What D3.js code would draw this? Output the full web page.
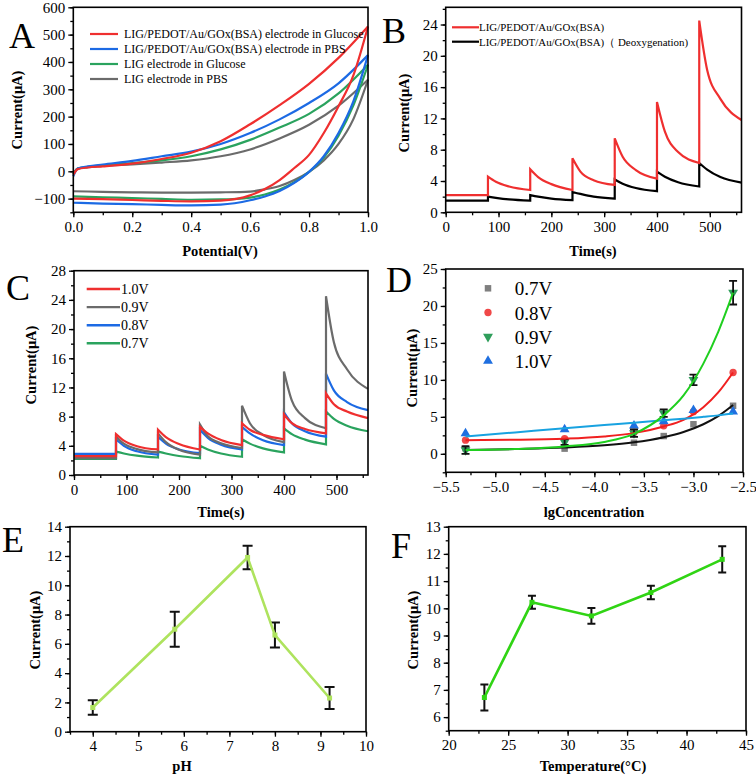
<!DOCTYPE html>
<html>
<head>
<meta charset="utf-8">
<script src="https://cdn.jsdelivr.net/npm/d3@7"></script>
<style>
  body { margin: 0; background: #fff; }
  svg { display: block; font-family: "Liberation Serif", "Times New Roman", Times, serif; }
</style>
</head>
<body>
<svg id="fig" width="756" height="777"></svg>
<script>
// ---------- A: cyclic voltammograms ----------
const cvUpV = [0, 0.015, 0.05, 0.1, 0.2, 0.3, 0.4, 0.5, 0.6, 0.7, 0.8, 0.9, 1.0];
const cvLowV = [0, 0.1, 0.2, 0.3, 0.4, 0.5, 0.6, 0.65, 0.7, 0.75, 0.8, 0.85, 0.9, 0.95, 1.0];
const cvNames = ["LIG/PEDOT/Au/GOx(BSA) electrode in Glucose", "LIG/PEDOT/Au/GOx(BSA) electrode in PBS",
                 "LIG electrode in Glucose", "LIG electrode in PBS"];
const cvUp = [
  [-12, 8, 14, 18, 28, 45, 68, 110, 172, 242, 320, 415, 530],
  [-18, 10, 18, 25, 38, 55, 72, 100, 140, 190, 250, 322, 425],
  [-12, 10, 16, 22, 30, 40, 55, 80, 115, 160, 210, 285, 390],
  [-8, 10, 15, 20, 25, 32, 40, 55, 80, 120, 170, 240, 335]
];
const cvLow = [
  [-100, -102, -105, -108, -110, -107, -88, -65, -32, 12, 60, 140, 238, 350, 530],
  [-115, -118, -120, -123, -125, -122, -106, -92, -72, -42, -2, 55, 140, 255, 425],
  [-92, -95, -98, -101, -104, -103, -96, -85, -67, -40, -2, 50, 130, 240, 390],
  [-73, -75, -77, -78, -78, -77, -74, -66, -54, -32, -2, 40, 100, 190, 335]
];

// ---------- B: amperometric response ----------
const stepTimes = [80, 160, 240, 320, 400, 480];
const bNames = ["LIG/PEDOT/Au/GOx(BSA)", "LIG/PEDOT/Au/GOx(BSA)（ Deoxygenation)"];
const bBase = [2.2, 1.5];
const bPeak = [[4.55, 5.5, 6.9, 9.45, 14.1, 24.5], [2.0, 2.2, 2.6, 4.2, 5.2, 6.3]];
const bAt15 = [[3.9, 4.5, 5.2, 7.1, 10.3, 18.2], [1.85, 2.0, 2.35, 3.65, 4.55, 5.45]];
const bAt40 = [[3.3, 3.6, 4.1, 5.4, 7.7, 14.5], [1.65, 1.75, 2.0, 3.1, 3.85, 4.5]];
const bEnd = [[2.85, 2.85, 3.5, 4.3, 6.3, 11.8], [1.5, 1.55, 1.75, 2.7, 3.3, 3.8]];

// ---------- C: applied potential ----------
const cNames = ["1.0V", "0.9V", "0.8V", "0.7V"];
const cBase = [2.6, 2.3, 2.9, 2.2];
const cPeak = [[5.6, 6.2, 6.6, 7.1, 8.3, 11.2], [5.25, 5.7, 6.9, 9.5, 14.2, 24.5],
               [4.9, 5.25, 6.2, 6.6, 8.6, 13.9], [3.2, 3.2, 4.0, 4.9, 6.4, 8.7]];
const cAt15 = [[4.7, 5.2, 5.7, 6.2, 7.1, 9.7], [4.3, 4.5, 5.3, 7.1, 10.2, 18.2],
               [4.0, 4.3, 5.1, 5.7, 7.1, 11.6], [2.95, 2.95, 3.5, 4.3, 5.6, 7.7]];
const cAt40 = [[3.95, 4.25, 4.8, 5.5, 6.3, 8.7], [3.55, 3.45, 4.35, 5.5, 7.8, 14.5],
               [3.25, 3.5, 4.15, 4.75, 6.0, 10.0], [2.65, 2.6, 2.95, 3.65, 4.85, 6.75]];
const cEnd = [[3.5, 3.5, 4.1, 4.9, 5.7, 7.8], [3.1, 2.8, 3.7, 4.5, 6.4, 11.8],
              [2.8, 3.0, 3.5, 4.1, 5.25, 8.9], [2.4, 2.3, 2.5, 3.1, 4.2, 6.0]];

// ---------- D: current vs lg concentration ----------
const lgC = [-5.3, -4.3, -3.6, -3.3, -3.0, -2.6];
const dNames = ["0.7V", "0.8V", "0.9V", "1.0V"];
const dVals = [
  [0.75, 0.7, 1.5, 2.4, 4.0, 6.5],
  [1.85, 2.05, 2.9, 3.8, 5.7, 11.0],
  [0.5, 1.6, 2.8, 5.5, 10.0, 21.8],
  [2.75, 3.3, 3.8, 4.4, 5.9, 5.7]
];
const d09Err = [0.5, 0.4, 0.5, 0.5, 0.7, 1.6];
const fitX = [-5.3, -4.8, -4.3, -3.9, -3.6, -3.3, -3.1, -2.9, -2.75, -2.6];
const fitY = [
  [0.5, 0.65, 0.85, 1.15, 1.55, 2.25, 2.95, 4.0, 5.1, 6.6],
  [1.85, 1.9, 2.05, 2.35, 2.8, 3.7, 4.6, 6.3, 8.3, 11.0],
  [0.5, 0.65, 1.0, 1.6, 2.7, 5.2, 7.9, 12.2, 16.5, 21.8],
  [2.35, 2.9, 3.45, 3.9, 4.2, 4.55, 4.75, 5.0, 5.2, 5.45]
];

// ---------- E: pH ----------
const pH = [4, 5.8, 7.4, 8, 9.2];
const pHCur = [1.65, 7.0, 11.9, 6.6, 2.3];
const pHErr = [0.5, 1.2, 0.8, 0.85, 0.75];

// ---------- F: temperature ----------
const temp = [23, 27, 32, 37, 43];
const tempCur = [6.72, 10.22, 9.72, 10.58, 11.8];
const tempErr = [0.48, 0.24, 0.29, 0.25, 0.48];

// tick labels
const ticksA = { x: [0, 0.2, 0.4, 0.6, 0.8, 1.0], y: [-100, 0, 100, 200, 300, 400, 500, 600] };
const ticksB = { x: [0, 100, 200, 300, 400, 500], y: [0, 4, 8, 12, 16, 20, 24] };
const ticksC = { x: [0, 100, 200, 300, 400, 500], y: [0, 4, 8, 12, 16, 20, 24, 28] };
const ticksD = { x: [-5.5, -5.0, -4.5, -4.0, -3.5, -3.0, -2.5], y: [0, 5, 10, 15, 20, 25] };
const ticksE = { x: [4, 5, 6, 7, 8, 9, 10], y: [0, 2, 4, 6, 8, 10, 12, 14] };
const ticksF = { x: [20, 25, 30, 35, 40, 45], y: [6, 7, 8, 9, 10, 11, 12, 13] };

const red = "#ef2f2f", blue = "#1c6ae4", green = "#2aa35e", gray = "#6b6b6b";
const serif = "Liberation Serif, Times New Roman, Times, serif";

const svg = d3.select("#fig");

function minors(domain, step) {
  const lo = Math.min(domain[0], domain[1]), hi = Math.max(domain[0], domain[1]);
  return d3.range(Math.ceil(lo / step - 1e-9) * step, hi + 1e-9, step);
}

function panel(o) {
  const x = d3.scaleLinear().domain(o.xd).range([o.l, o.r]);
  const y = d3.scaleLinear().domain(o.yd).range([o.b, o.t]);
  const g = svg.append("g");
  const style = sel => sel.attr("font-size", 15).attr("font-family", serif)
    .call(s => s.selectAll("line").attr("stroke-width", 1.3))
    .call(s => s.select(".domain").remove());

  g.append("g").attr("transform", `translate(0,${o.b})`)
    .call(d3.axisBottom(x).tickValues(minors(o.xd, o.xm)).tickSize(3).tickFormat("")).call(style);
  g.append("g").attr("transform", `translate(0,${o.b})`)
    .call(d3.axisBottom(x).tickValues(o.ticks.x).tickSize(5).tickPadding(4).tickFormat(o.xf || d3.format("d"))).call(style);
  g.append("g").attr("transform", `translate(${o.l},0)`)
    .call(d3.axisLeft(y).tickValues(minors(o.yd, o.ym)).tickSize(3).tickFormat("")).call(style);
  g.append("g").attr("transform", `translate(${o.l},0)`)
    .call(d3.axisLeft(y).tickValues(o.ticks.y).tickSize(5).tickPadding(3).tickFormat(o.yf || d3.format("d"))).call(style);

  const plot = g.append("g");

  g.append("rect").attr("x", o.l).attr("y", o.t).attr("width", o.r - o.l).attr("height", o.b - o.t)
    .attr("fill", "none").attr("stroke", "#000").attr("stroke-width", 1.6);

  // panel letter and axis titles
  g.append("text").attr("x", o.letter[0]).attr("y", o.letter[1]).attr("font-size", 36).text(o.name);
  g.append("text").attr("x", o.xt[0]).attr("y", o.xt[1]).attr("text-anchor", "middle")
    .attr("font-size", 14.5).attr("font-weight", "bold").text(o.xtitle);
  g.append("text").attr("transform", `translate(${o.yt[0]},${o.yt[1]}) rotate(-90)`).attr("text-anchor", "middle")
    .attr("font-size", 14.5).attr("font-weight", "bold").text("Current(μA)");
  return { x, y, plot, g };
}

// ---------- panel A ----------
{
  const p = panel({ name: "A", l: 73.3, r: 368, t: 7.3, b: 212.3, xd: [0, 1], yd: [-150, 600],
    ticks: ticksA, xm: 0.1, ym: 50, xf: d3.format(".1f"),
    letter: [9, 48], xt: [220, 256], yt: [22, 110], xtitle: "Potential(V)" });
  const line = d3.line().x(d => p.x(d[0])).y(d => p.y(d[1])).curve(d3.curveMonotoneX);
  const cols = [red, blue, green, gray];
  [3, 2, 1, 0].forEach(i => {
    p.plot.append("path").attr("d", line(cvUpV.map((v, j) => [v, cvUp[i][j]])))
      .attr("fill", "none").attr("stroke", cols[i]).attr("stroke-width", 2.2);
    p.plot.append("path").attr("d", line(cvLowV.map((v, j) => [v, cvLow[i][j]])))
      .attr("fill", "none").attr("stroke", cols[i]).attr("stroke-width", 2.2);
  });
  cvNames.forEach((n, i) => {
    const yy = 34 + i * 15;
    p.g.append("line").attr("x1", 90).attr("x2", 118).attr("y1", yy).attr("y2", yy)
      .attr("stroke", cols[i]).attr("stroke-width", 2.2);
    p.g.append("text").attr("x", 124).attr("y", yy + 4).attr("font-size", 12).text(n);
  });
}

function stepPath(x, y, base, peaks, at15, at40, ends) {
  const line = d3.line().x(d => x(d[0])).y(d => y(d[1])).curve(d3.curveMonotoneX);
  let d = `M${x(0)},${y(base)}L${x(stepTimes[0])},${y(base)}`;
  stepTimes.forEach((t, i) => {
    const seg = [[t, peaks[i]], [t + 15, at15[i]], [t + 40, at40[i]], [t + 80, ends[i]]];
    d += "L" + line(seg).slice(1);
  });
  return d;
}

// ---------- panel B ----------
{
  const p = panel({ name: "B", l: 445.7, r: 741.5, t: 7.3, b: 212.3, xd: [0, 560], yd: [0, 26.2],
    ticks: ticksB, xm: 50, ym: 2,
    letter: [382, 43], xt: [593, 256], yt: [409, 113], xtitle: "Time(s)" });
  const cols = [red, "#000"];
  [1, 0].forEach(i => {
    p.plot.append("path").attr("d", stepPath(p.x, p.y, bBase[i], bPeak[i], bAt15[i], bAt40[i], bEnd[i]))
      .attr("fill", "none").attr("stroke", cols[i]).attr("stroke-width", 2.2);
  });
  bNames.forEach((n, i) => {
    const yy = 27.3 + i * 14.4;
    p.g.append("line").attr("x1", 452).attr("x2", 479).attr("y1", yy).attr("y2", yy)
      .attr("stroke", cols[i]).attr("stroke-width", 2.2);
    p.g.append("text").attr("x", 479).attr("y", yy + 4).attr("font-size", 10.9).text(n);
  });
}

// ---------- panel C ----------
{
  const p = panel({ name: "C", l: 74, r: 368, t: 270.7, b: 475, xd: [0, 560], yd: [0, 28],
    ticks: ticksC, xm: 50, ym: 2,
    letter: [6, 300], xt: [221, 517], yt: [36, 365], xtitle: "Time(s)" });
  const cols = [red, gray, blue, green];
  [3, 2, 1, 0].forEach(i => {
    p.plot.append("path").attr("d", stepPath(p.x, p.y, cBase[i], cPeak[i], cAt15[i], cAt40[i], cEnd[i]))
      .attr("fill", "none").attr("stroke", cols[i]).attr("stroke-width", 2.2);
  });
  cNames.forEach((n, i) => {
    const yy = 289 + i * 18.1;
    p.g.append("line").attr("x1", 86.7).attr("x2", 120).attr("y1", yy).attr("y2", yy)
      .attr("stroke", cols[i]).attr("stroke-width", 2.4);
    p.g.append("text").attr("x", 121).attr("y", yy + 5).attr("font-size", 14).text(n);
  });
}

// ---------- panel D ----------
{
  const p = panel({ name: "D", l: 445.7, r: 743, t: 269, b: 472.3, xd: [-5.5, -2.5], yd: [-2.5, 25],
    ticks: ticksD, xm: 0.25, ym: 2.5, xf: d3.format(".1f"),
    letter: [386, 292], xt: [594, 517], yt: [417, 368], xtitle: "lgConcentration" });
  const markCols = ["#7f7f7f", "#f04848", "#2f9e5b", "#1f6fe0"];
  const fitCols = ["#111", "#f02020", "#1fcf1f", "#18a2e0"];
  const shapes = [d3.symbolSquare, d3.symbolCircle, d3.symbolTriangle, d3.symbolTriangle];
  const sym = (i, sz) => d3.symbol().type(shapes[i]).size(sz)();
  const rot = i => (i === 2 ? " rotate(180)" : "");
  const line = d3.line().x(d => p.x(d[0])).y(d => p.y(d[1])).curve(d3.curveMonotoneX);

  [0, 1, 3, 2].forEach(i => {
    p.plot.selectAll(null).data(lgC).join("path")
      .attr("d", sym(i, 42))
      .attr("transform", (d, j) => `translate(${p.x(d)},${p.y(dVals[i][j])})${rot(i)}`)
      .attr("fill", markCols[i]);
  });
  // error bars on 0.9V
  const cap = 4;
  lgC.forEach((d, j) => {
    const xx = p.x(d), y1 = p.y(dVals[2][j] - d09Err[j]), y2 = p.y(dVals[2][j] + d09Err[j]);
    p.plot.append("path").attr("d", `M${xx},${y1}V${y2}M${xx - cap},${y1}H${xx + cap}M${xx - cap},${y2}H${xx + cap}`)
      .attr("stroke", "#111").attr("stroke-width", 1.8).attr("fill", "none");
  });
  [0, 1, 3, 2].forEach(i => {
    p.plot.append("path").attr("d", line(fitX.map((v, j) => [v, fitY[i][j]])))
      .attr("fill", "none").attr("stroke", fitCols[i]).attr("stroke-width", 2);
  });
  dNames.forEach((n, i) => {
    const yy = 288.3 + i * 24.2;
    p.g.append("path").attr("d", sym(i, 42)).attr("transform", `translate(488,${yy})${rot(i)}`)
      .attr("fill", markCols[i]);
    p.g.append("text").attr("x", 514.7).attr("y", yy + 7).attr("font-size", 19).text(n);
  });
}

function errorLine(p, xs, ys, es, col, cap) {
  const line = d3.line().x(d => p.x(d[0])).y(d => p.y(d[1]));
  xs.forEach((d, j) => {
    const xx = p.x(d), y1 = p.y(ys[j] - es[j]), y2 = p.y(ys[j] + es[j]);
    p.plot.append("path").attr("d", `M${xx},${y1}V${y2}M${xx - cap},${y1}H${xx + cap}M${xx - cap},${y2}H${xx + cap}`)
      .attr("stroke", "#111").attr("stroke-width", 2).attr("fill", "none");
  });
  p.plot.append("path").attr("d", line(xs.map((v, j) => [v, ys[j]])))
    .attr("fill", "none").attr("stroke", col).attr("stroke-width", 2.6);
  p.plot.selectAll(null).data(xs).join("rect")
    .attr("x", (d) => p.x(d) - 2.5).attr("y", (d, j) => p.y(ys[j]) - 2.5)
    .attr("width", 5).attr("height", 5).attr("fill", col);
}

// ---------- panel E ----------
{
  const p = panel({ name: "E", l: 70, r: 366, t: 526.7, b: 731.7, xd: [3.5, 10], yd: [0, 14],
    ticks: ticksE, xm: 0.5, ym: 1,
    letter: [2, 552], xt: [182, 771], yt: [40, 630], xtitle: "pH" });
  errorLine(p, pH, pHCur, pHErr, "#aee35e", 5);
}

// ---------- panel F ----------
{
  const p = panel({ name: "F", l: 448.7, r: 746, t: 526.7, b: 730.7, xd: [20, 45], yd: [5.5, 13],
    ticks: ticksF, xm: 2.5, ym: 0.5,
    letter: [391, 558], xt: [593, 771], yt: [418, 630], xtitle: "Temperature(°C)" });
  errorLine(p, temp, tempCur, tempErr, "#30d414", 4);
}
</script>
</body>
</html>
